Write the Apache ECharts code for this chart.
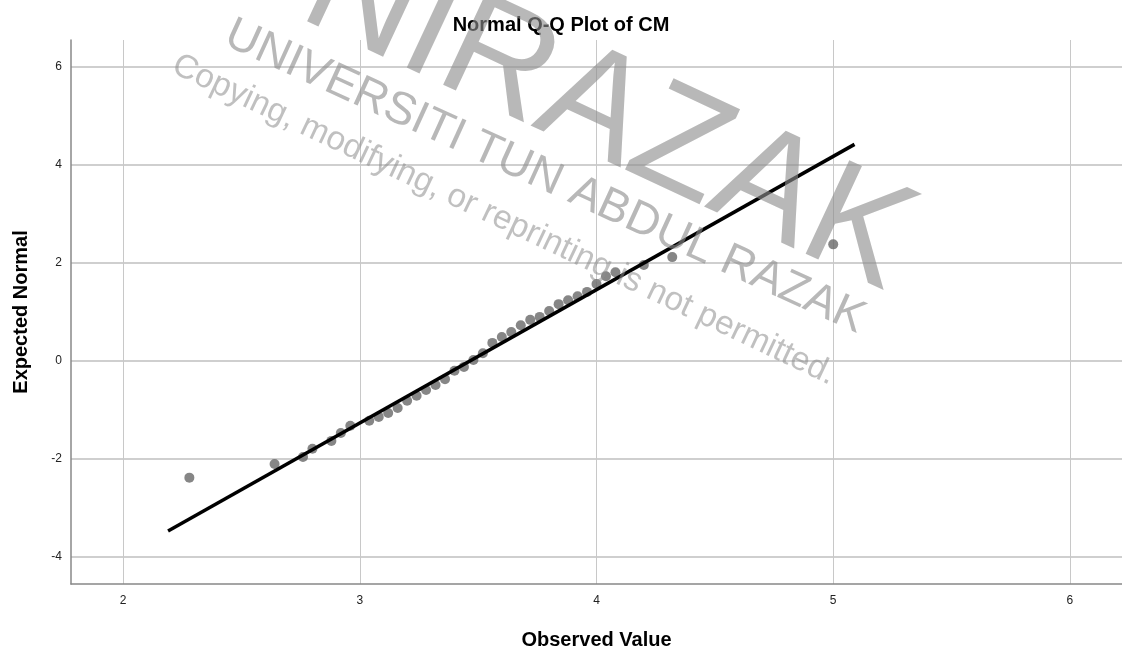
<!DOCTYPE html>
<html>
<head>
<meta charset="utf-8">
<script src="https://cdn.jsdelivr.net/npm/echarts@6/dist/echarts.min.js"></script>
<style>
  html, body { margin: 0; padding: 0; background: #fff; }
  #chart { width: 1122px; height: 654px; }
</style>
</head>
<body>
<div id="chart"></div>
<script>
// tick values
var xTicks = [2, 3, 4, 5, 6];
var yTicks = [-4, -2, 0, 2, 4, 6];

var observed = [2.28, 2.64, 2.76, 2.80, 2.88, 2.92, 2.96, 3.04, 3.08, 3.12, 3.16, 3.20,
  3.24, 3.28, 3.32, 3.36, 3.40, 3.44, 3.48, 3.52, 3.56, 3.60, 3.64, 3.68, 3.72, 3.76,
  3.80, 3.84, 3.88, 3.92, 3.96, 4.00, 4.04, 4.08, 4.20, 4.32, 5.00];
var expected = [-2.38, -2.10, -1.96, -1.79, -1.63, -1.47, -1.32, -1.22, -1.14, -1.06, -0.96, -0.81,
  -0.71, -0.59, -0.49, -0.37, -0.20, -0.12, 0.02, 0.16, 0.37, 0.49, 0.59, 0.73, 0.84, 0.90,
  1.02, 1.16, 1.24, 1.32, 1.41, 1.57, 1.73, 1.81, 1.96, 2.12, 2.38];

// reference line end points
var lineX = [2.19, 5.09];
var lineY = [-3.47, 4.42];

var chart = echarts.init(document.getElementById("chart"));
var font = "'Liberation Sans', Arial, sans-serif";
var wmColor = "rgba(140,140,140,0.62)";

chart.setOption({
  animation: false,
  backgroundColor: "#fff",
  title: {
    text: "Normal Q-Q Plot of CM",
    left: "center",
    top: 10,
    textStyle: { fontFamily: font, fontSize: 20, fontWeight: "bold", color: "#000" }
  },
  grid: { left: 71, right: 0, top: 40, bottom: 70, containLabel: false, outerBoundsMode: "none" },
  xAxis: {
    type: "value",
    min: 1.78,
    max: 6.22,
    name: "Observed Value",
    nameLocation: "middle",
    nameGap: 46,
    nameTextStyle: { fontFamily: font, fontSize: 20, fontWeight: "bold", color: "#000" },
    axisLine: { onZero: false, lineStyle: { color: "#888", width: 1.5 } },
    axisTick: { show: false, customValues: xTicks },
    axisLabel: { customValues: xTicks, margin: 11, fontFamily: font, fontSize: 12, color: "#222" },
    splitLine: { show: true, lineStyle: { color: "#c8c8c8", width: 1 } }
  },
  yAxis: {
    type: "value",
    min: -4.55,
    max: 6.55,
    name: "Expected Normal",
    nameLocation: "middle",
    nameGap: 40,
    nameRotate: 90,
    nameTextStyle: { fontFamily: font, fontSize: 20, fontWeight: "bold", color: "#000" },
    axisLine: { show: true, onZero: false, lineStyle: { color: "#888", width: 1.5 } },
    axisTick: { show: false, customValues: yTicks },
    axisLabel: { customValues: yTicks, margin: 9, fontFamily: font, fontSize: 12, color: "#222" },
    splitLine: { show: true, lineStyle: { color: "#cfcfcf", width: 2 } }
  },
  series: [
    {
      type: "scatter",
      symbolSize: 10,
      itemStyle: { color: "#686868" },
      data: observed.map(function (v, i) { return [v, expected[i]]; }),
      z: 3
    },
    {
      type: "line",
      symbol: "none",
      lineStyle: { color: "#000", width: 3.5 },
      data: lineX.map(function (v, i) { return [v, lineY[i]]; }),
      z: 4
    }
  ],
  // watermark
  graphic: [
    {
      type: "text",
      x: 559, y: 93,
      rotation: -25 * Math.PI / 180,
      z: 100,
      style: {
        text: "UNIRAZAK", fontSize: 150, fontFamily: font,
        fill: wmColor, align: "center", verticalAlign: "middle"
      }
    },
    {
      type: "text",
      x: 545, y: 177,
      rotation: -24.5 * Math.PI / 180,
      z: 100,
      style: {
        text: "UNIVERSITI TUN ABDUL RAZAK", fontSize: 46, fontFamily: font,
        fill: wmColor, align: "center", verticalAlign: "middle"
      }
    },
    {
      type: "text",
      x: 504, y: 220,
      rotation: -25.4 * Math.PI / 180,
      z: 100,
      style: {
        text: "Copying, modifying, or reprinting is not permitted.", fontSize: 33.5, fontFamily: font,
        fill: "rgba(140,140,140,0.55)", align: "center", verticalAlign: "middle"
      }
    }
  ]
});
</script>
</body>
</html>
